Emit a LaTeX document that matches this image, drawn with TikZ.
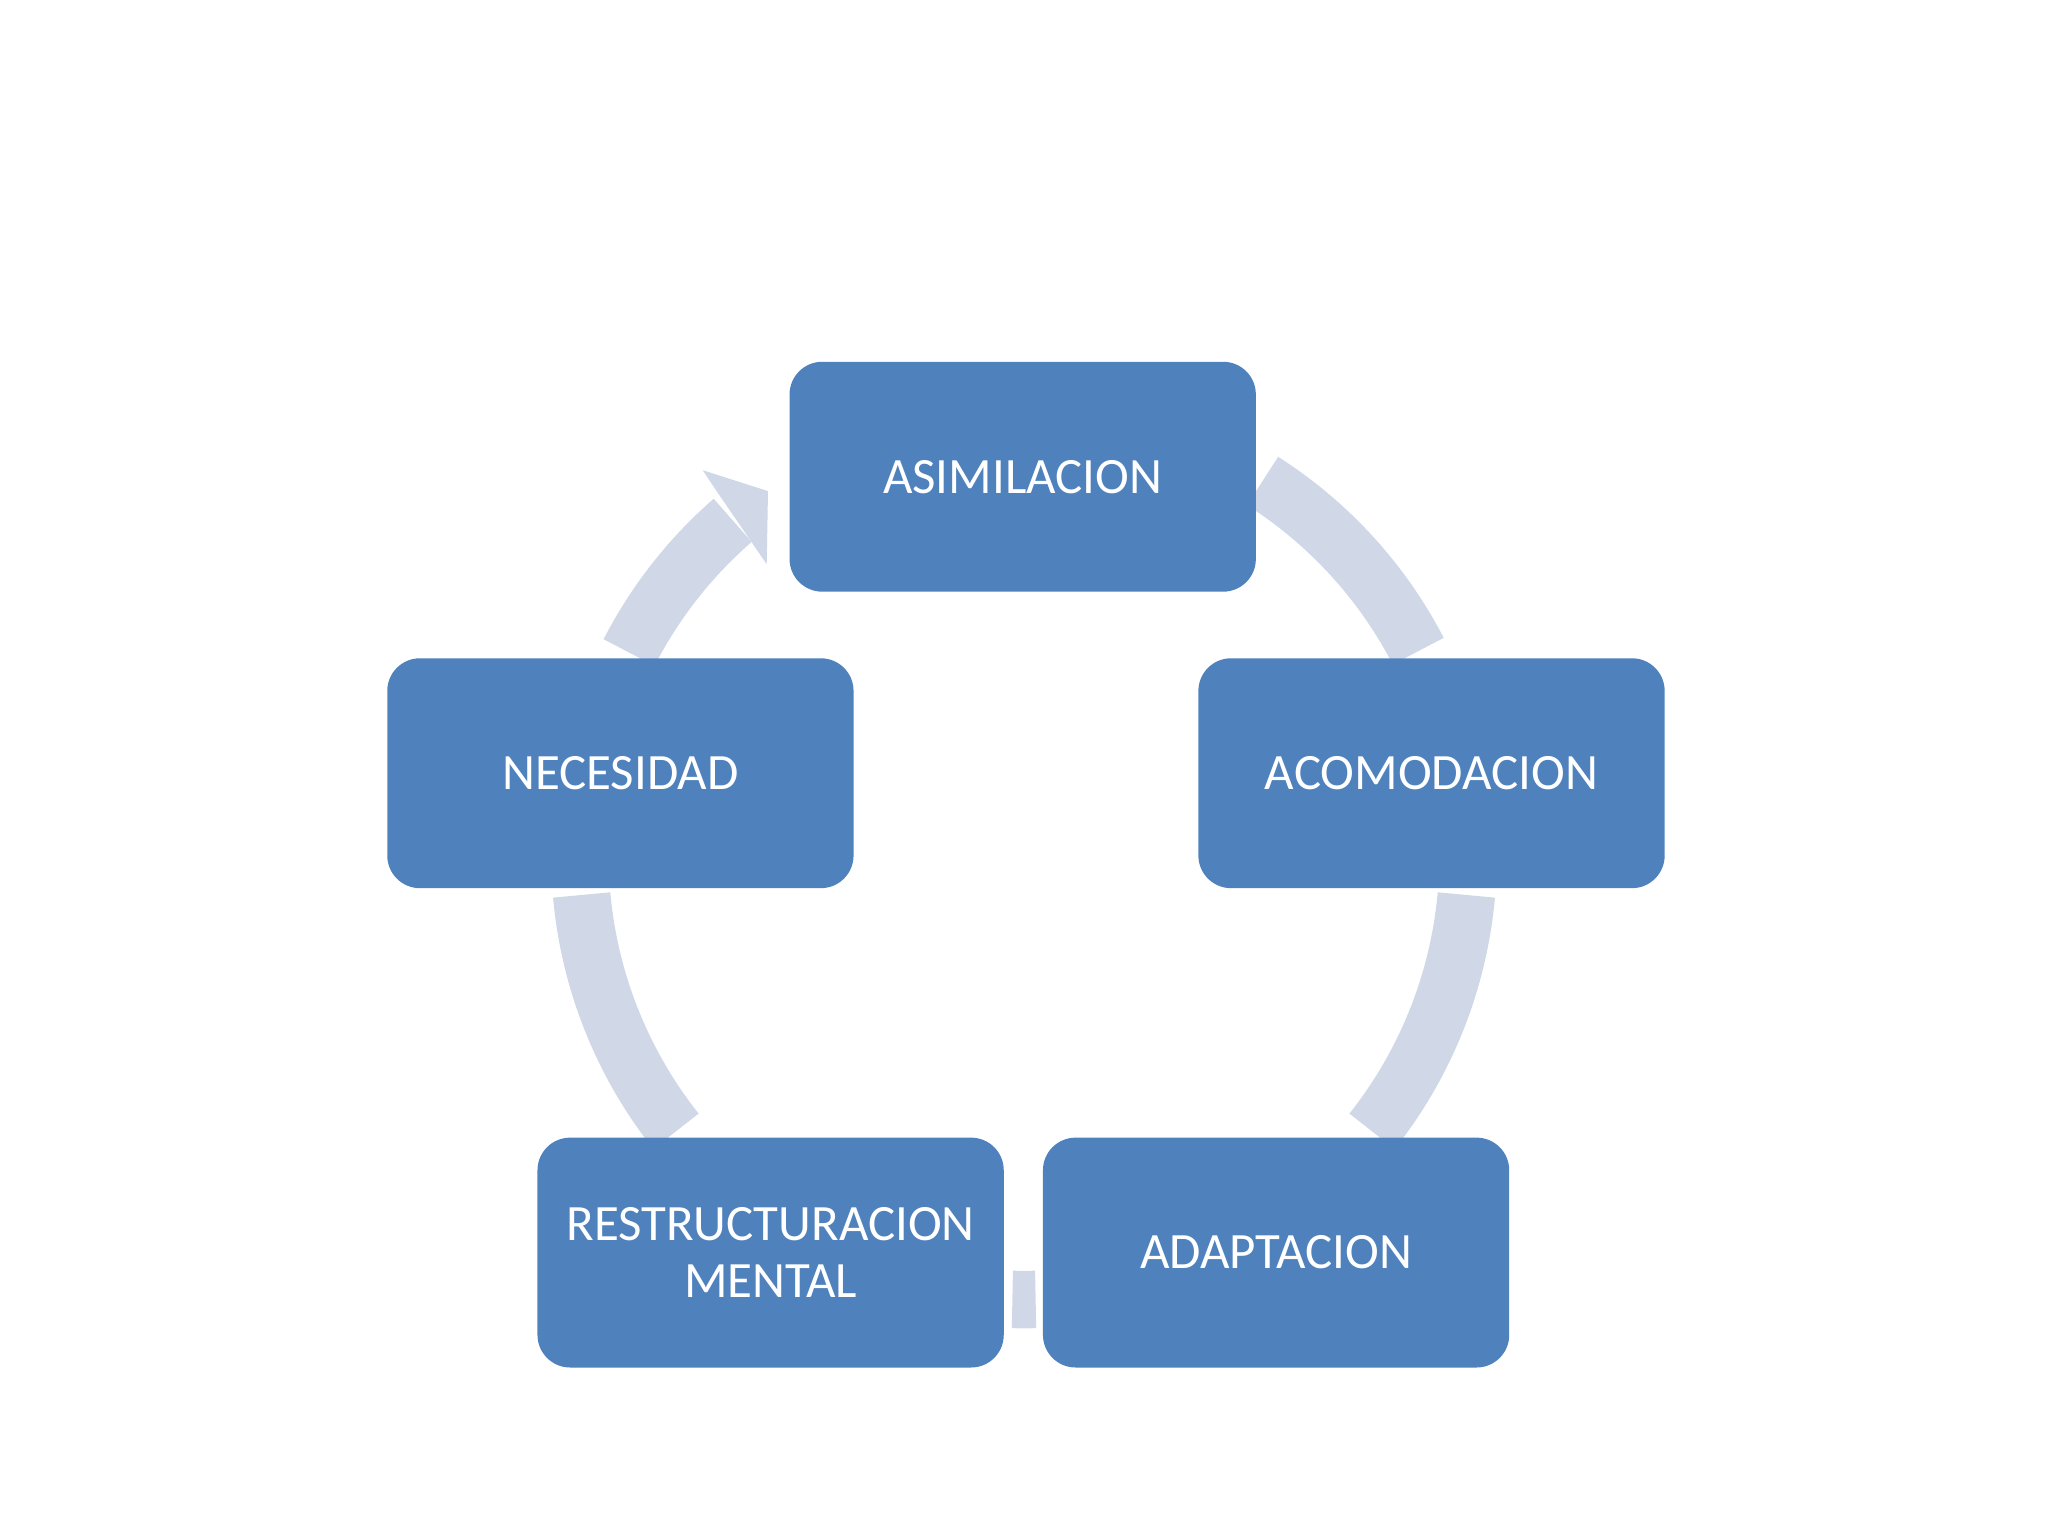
\documentclass[tikz,border=0pt]{standalone}
\usepackage{fontspec}
\setmainfont{Carlito}
\begin{document}
\begin{tikzpicture}[x=1pt,y=1pt,
  box/.style={draw=none,fill=boxblue,rounded corners=25pt,minimum width=357pt,minimum height=176pt,text=white,align=center,font=\fontsize{39}{44}\selectfont},
  arcl/.style={draw=arcgray,line width=44pt}]
\definecolor{boxblue}{HTML}{4F81BD}
\definecolor{arcgray}{HTML}{D0D8E8}
\useasboundingbox (0,0) rectangle (1568,1176);
\coordinate (c) at (784,521);
\draw[arcl] (c) ++(57.5:340) arc[start angle=57.5,end angle=27.4,radius=340];
\draw[arcl] (c) ++(-5.1:340) arc[start angle=-5.1,end angle=-38.4,radius=340];
\draw[arcl] (c) ++(-88.5:340) arc[start angle=-88.5,end angle=-91.5,radius=340];
\draw[arcl] (c) ++(218.4:340) arc[start angle=218.4,end angle=185.1,radius=340];
\draw[arcl] (c) ++(152.8:340) arc[start angle=152.8,end angle=131,radius=340];
\fill[arcgray] (538,816) -- (588,800) -- (587,744) -- (574,763) -- (550,798) -- cycle;
\node[box] (asim) at (783,811) {ASIMILACION};
\node[box] (acom) at (1096,584) {ACOMODACION};
\node[box] (adap) at (977,217) {ADAPTACION};
\node[box] (rest) at (590,217) {RESTRUCTURACION\\MENTAL};
\node[box] (nec) at (475,584) {NECESIDAD};
\end{tikzpicture}
\end{document}
